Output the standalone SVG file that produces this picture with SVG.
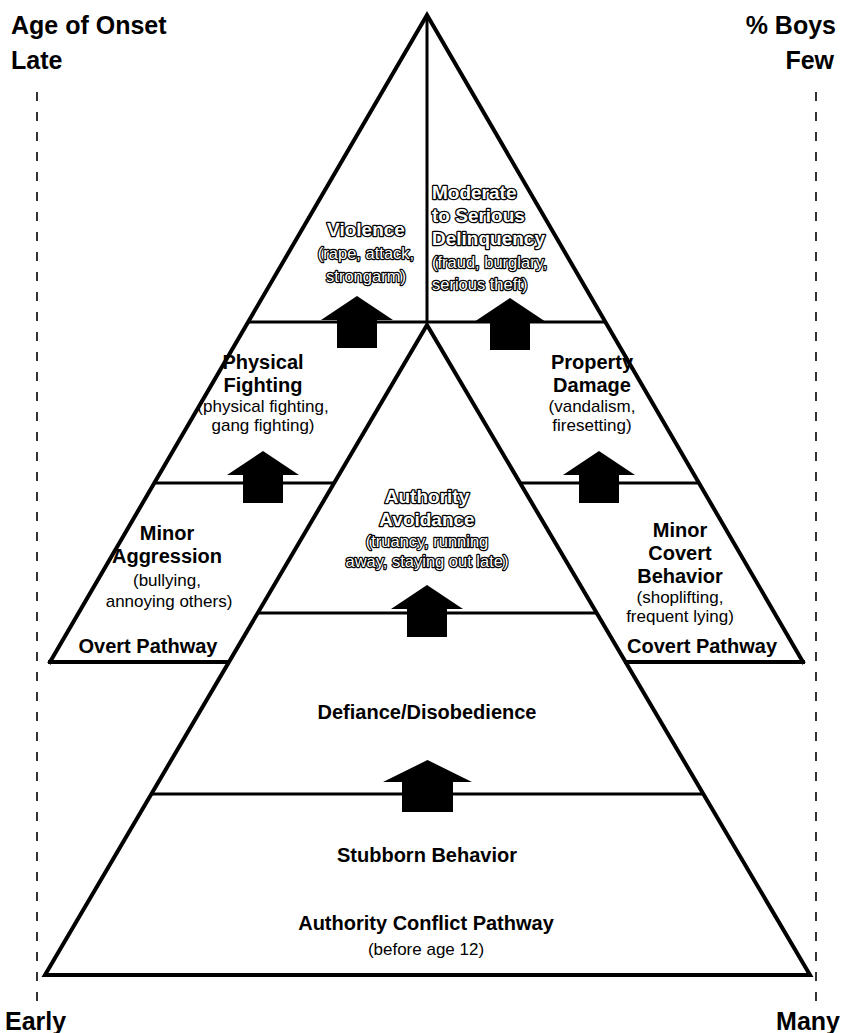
<svg xmlns="http://www.w3.org/2000/svg" xmlns:xlink="http://www.w3.org/1999/xlink" width="844" height="1033" viewBox="0 0 844 1033">
<style>
.ln{stroke:#000;stroke-width:4;fill:none;stroke-linejoin:miter;stroke-linecap:square}
.hl{stroke:#000;stroke-width:3;fill:none}
.dash{stroke:#000;stroke-width:1.6;stroke-dasharray:9 11;fill:none}
.ax{font-family:"Liberation Sans",Arial,sans-serif;font-weight:bold;font-size:25px;fill:#000}
.b{font-family:"Liberation Sans",Arial,sans-serif;font-weight:bold;font-size:20px;fill:#000;text-anchor:middle}
.r{font-family:"Liberation Sans",Arial,sans-serif;font-size:17px;fill:#000;text-anchor:middle}
.ob{font-family:"Liberation Sans",Arial,sans-serif;font-weight:bold;font-size:19px;fill:#fff;stroke:#000;stroke-width:2.6;paint-order:stroke fill;stroke-linejoin:round}
.or{font-family:"Liberation Sans",Arial,sans-serif;font-size:16.5px;fill:#fff;stroke:#000;stroke-width:2.4;paint-order:stroke fill;stroke-linejoin:round}
.mid{text-anchor:middle}
</style>
<defs>
<path id="arr" d="M0,0 L36,24 L20,24 L20,52 L-20,52 L-20,24 L-36,24 Z" fill="#000"/>
</defs>
<rect width="844" height="1033" fill="#fff"/>

<g id="frame">
<polyline class="ln" points="50,662 427,15 803,662"/>
<line class="hl" x1="427" y1="15" x2="427" y2="323"/>
<polygon class="ln" points="427,325 45,975 810,975"/>
<line class="hl" x1="248" y1="322" x2="605" y2="322"/>
<line class="hl" x1="154" y1="483" x2="334" y2="483"/>
<line class="hl" x1="520" y1="483" x2="699" y2="483"/>
<line class="hl" x1="258" y1="613" x2="597" y2="613"/>
<line class="ln" x1="50" y1="662" x2="228" y2="662"/>
<line class="ln" x1="626" y1="662" x2="803" y2="662"/>
<line class="hl" x1="151" y1="794" x2="703" y2="794"/>
<line class="dash" x1="37" y1="92" x2="37" y2="1002"/>
<line class="dash" x1="816" y1="92" x2="816" y2="1002"/>
</g>

<g id="axis-left">
<text class="ax" x="11" y="34">Age of Onset</text>
<text class="ax" x="11" y="69">Late</text>
<text class="ax" x="5" y="1030">Early</text>
</g>
<g id="axis-right">
<text class="ax" x="836" y="34" text-anchor="end">% Boys</text>
<text class="ax" x="834" y="69" text-anchor="end">Few</text>
<text class="ax" x="840" y="1030" text-anchor="end">Many</text>
</g>

<g id="violence">
<text class="ob mid" x="366" y="236">Violence</text>
<text class="or mid" x="366" y="259">(rape, attack,</text>
<text class="or mid" x="366" y="282">strongarm)</text>
</g>
<g id="delinquency">
<text class="ob" x="432" y="199">Moderate</text>
<text class="ob" x="432" y="222">to Serious</text>
<text class="ob" x="432" y="245">Delinquency</text>
<text class="or" x="432" y="268">(fraud, burglary,</text>
<text class="or" x="432" y="290">serious theft)</text>
</g>
<g id="physical-fighting">
<text class="b" x="263" y="369">Physical</text>
<text class="b" x="263" y="392">Fighting</text>
<text class="r" x="263" y="412">(physical fighting,</text>
<text class="r" x="263" y="431">gang fighting)</text>
</g>
<g id="property-damage">
<text class="b" x="592" y="369">Property</text>
<text class="b" x="592" y="392">Damage</text>
<text class="r" x="592" y="412">(vandalism,</text>
<text class="r" x="592" y="431">firesetting)</text>
</g>
<g id="authority-avoidance">
<text class="ob mid" x="427" y="503">Authority</text>
<text class="ob mid" x="427" y="526">Avoidance</text>
<text class="or mid" x="427" y="547">(truancy, running</text>
<text class="or mid" x="427" y="567">away, staying out late)</text>
</g>
<g id="minor-aggression">
<text class="b" x="167" y="540">Minor</text>
<text class="b" x="167" y="563">Aggression</text>
<text class="r" x="167" y="586">(bullying,</text>
<text class="r" x="169" y="607">annoying others)</text>
</g>
<g id="minor-covert">
<text class="b" x="680" y="537">Minor</text>
<text class="b" x="680" y="560">Covert</text>
<text class="b" x="680" y="583">Behavior</text>
<text class="r" x="680" y="603">(shoplifting,</text>
<text class="r" x="680" y="622">frequent lying)</text>
</g>
<g id="overt-pathway">
<text class="b" x="148" y="653">Overt Pathway</text>
</g>
<g id="covert-pathway">
<text class="b" x="702" y="653">Covert Pathway</text>
</g>
<g id="defiance">
<text class="b" x="427" y="719">Defiance/Disobedience</text>
</g>
<g id="stubborn">
<text class="b" x="427" y="862">Stubborn Behavior</text>
</g>
<g id="authority-conflict">
<text class="b" x="426" y="930">Authority Conflict Pathway</text>
<text class="r" x="426" y="955">(before age 12)</text>
</g>

<g id="connectors">
<use xlink:href="#arr" x="357" y="296"/>
<use xlink:href="#arr" x="510" y="298"/>
<use xlink:href="#arr" x="263" y="451"/>
<use xlink:href="#arr" x="599" y="451"/>
<use xlink:href="#arr" x="427" y="585"/>
<path d="M427.5,760 L472,782 L453,782 L453,812 L402,812 L402,782 L383,782 Z" fill="#000"/>
</g>
</svg>
